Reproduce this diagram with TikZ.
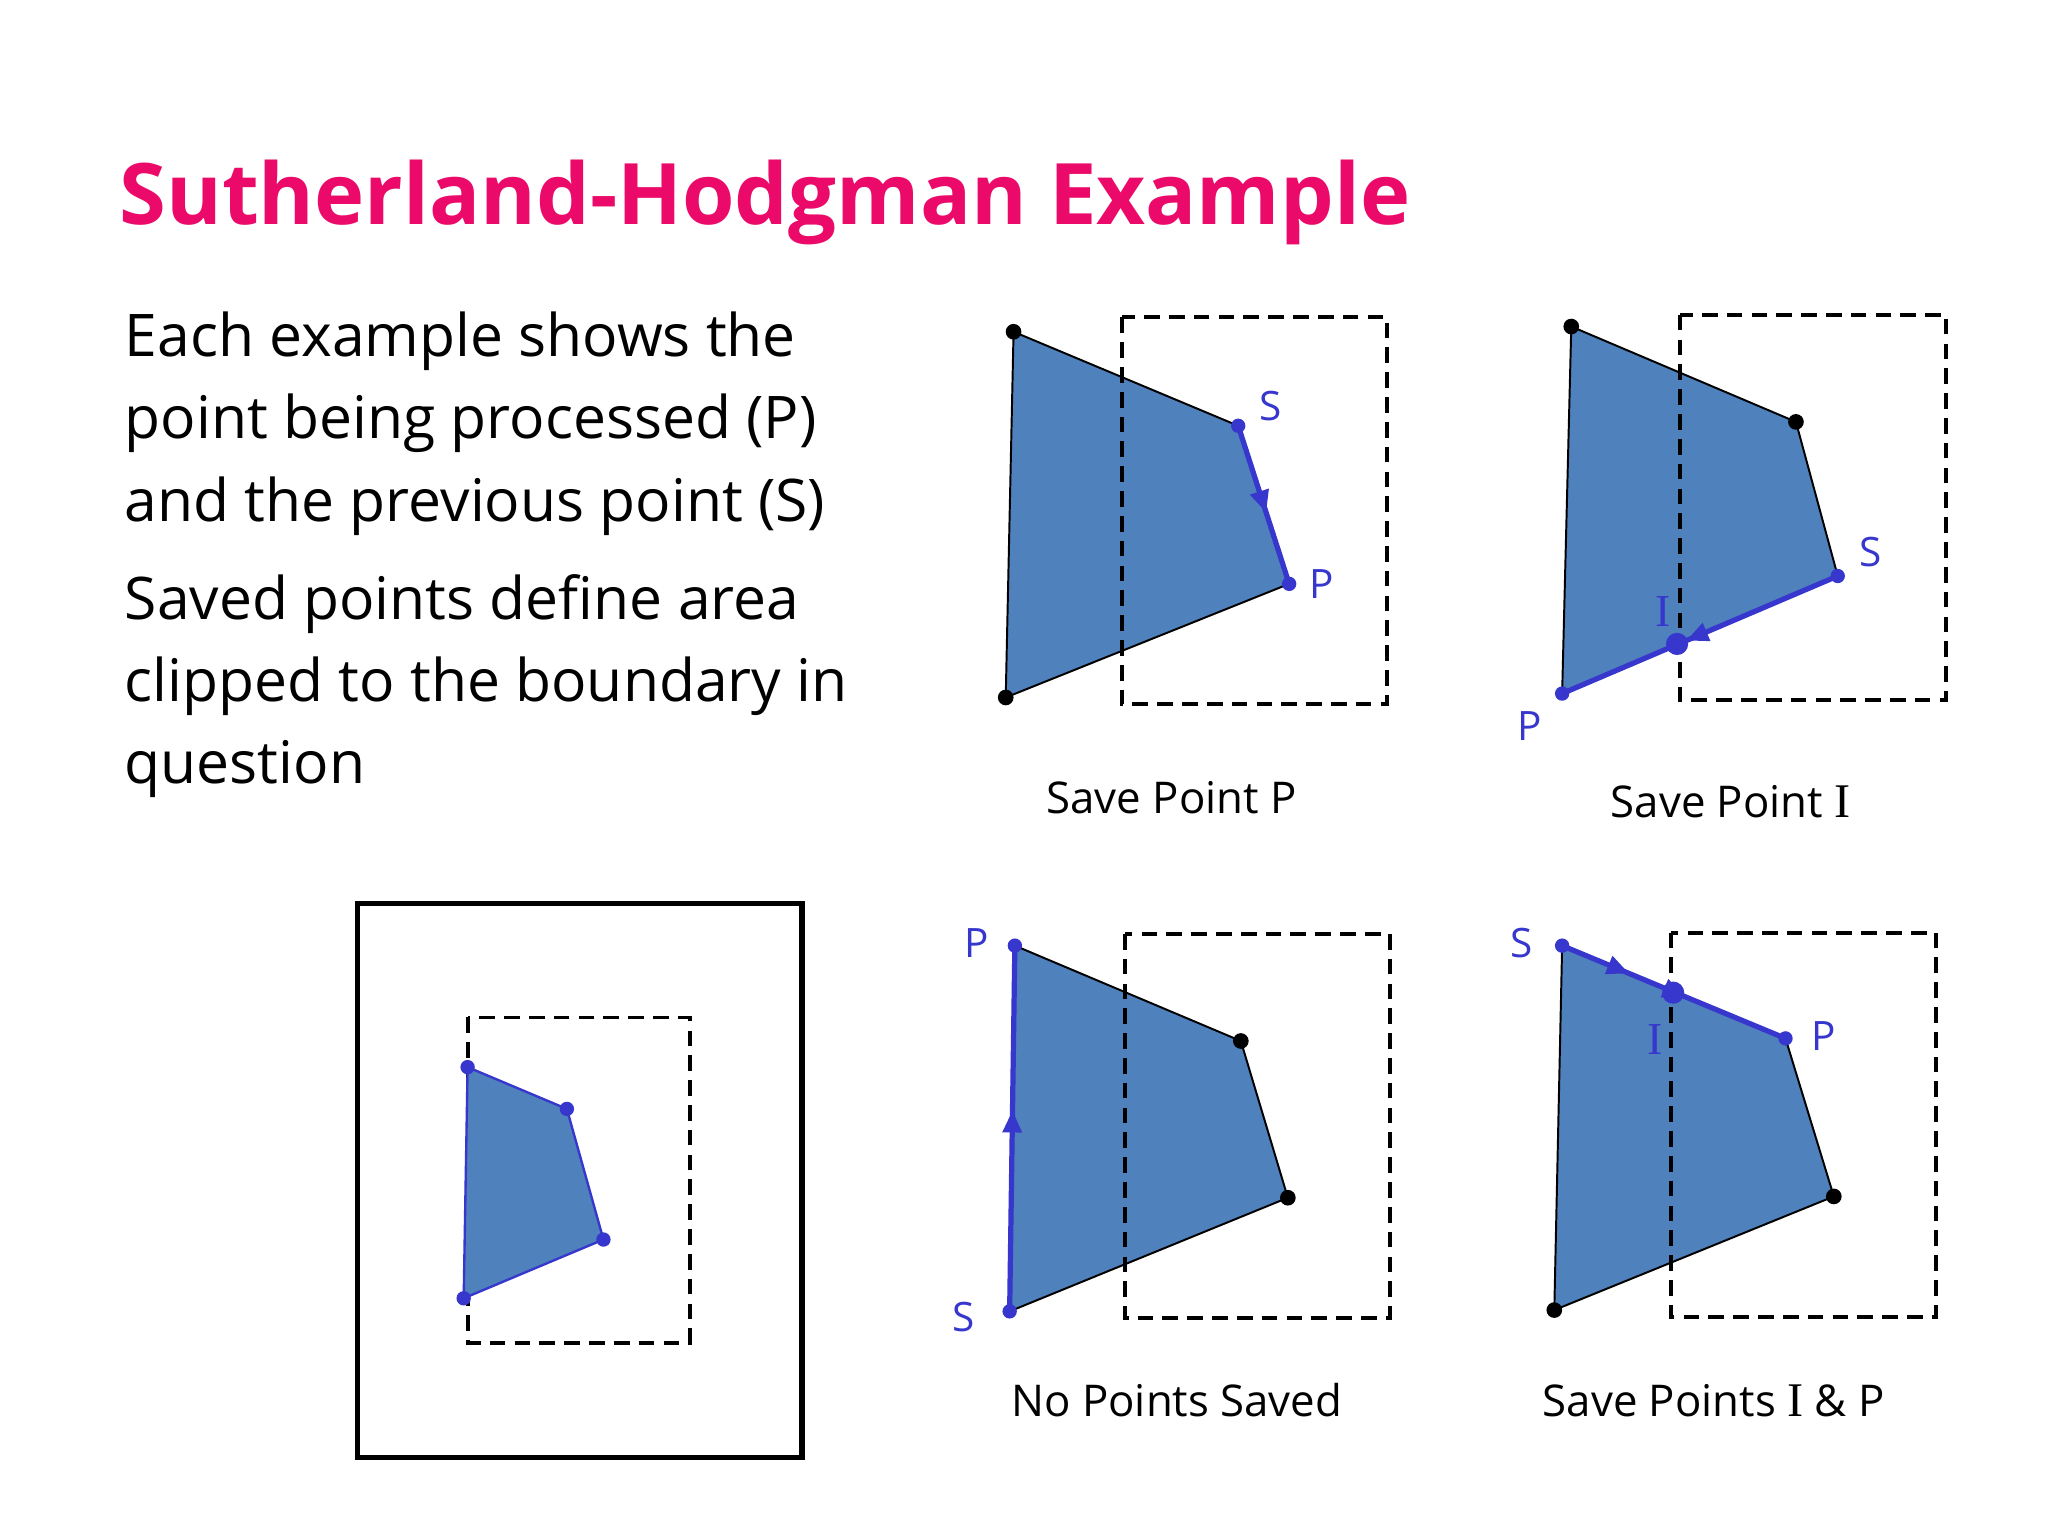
\documentclass[tikz,border=0pt]{standalone}
\usepackage{fontspec}
\setmainfont{Open Sans}
\newfontfamily\serifI{Liberation Serif}
\usetikzlibrary{decorations.markings,arrows.meta}
\definecolor{ttl}{RGB}{235,10,105}
\definecolor{pfill}{RGB}{79,129,189}
\definecolor{acc}{RGB}{55,55,205}
\tikzset{
 poly/.style={fill=pfill,draw=black,line width=1.5pt,line join=round},
 clipbox/.style={draw=black,dashed,dash pattern=on 12pt off 7pt,line width=3pt},
 bdot/.style={circle,fill=black,inner sep=0pt,minimum size=12pt},
 adot/.style={circle,fill=acc,inner sep=0pt,minimum size=11pt},
 idot/.style={circle,fill=acc,inner sep=0pt,minimum size=17pt},
 lbl/.style={text=acc,font=\fontsize{31}{36}\selectfont},
 ilbl/.style={text=acc,font=\serifI\fontsize{35}{36}\selectfont},
 captxt/.style={font=\fontsize{33.5}{38}\selectfont},
 body/.style={anchor=base west,font=\fontsize{45}{63}\selectfont},
 edge/.style={draw=acc,line width=4pt,postaction={decorate},decoration={markings,mark=at position 0.55 with {\arrow{Triangle[length=17pt,width=14pt]}}}}
}
\begin{document}
\begin{tikzpicture}[x=1pt,y=-1pt]
\path[use as bounding box,fill=white] (0,0) rectangle (1568,1176);
\node[anchor=base west,text=ttl,font=\bfseries\fontsize{65}{70}\selectfont] (title) at (88,172) {Sutherland-Hodgman Example};
\node[body] (t1) at (92,273) {Each example shows the};
\node[body] (t2) at (92,336) {point being processed (P)};
\node[body] (t3) at (92,399) {and the previous point (S)};
\node[body] (t4) at (92,474) {Saved points define area};
\node[body] (t5) at (92,537) {clipped to the boundary in};
\node[body] (t6) at (92,600) {question};

% panel 1
\draw[poly] (776,254) -- (948,326) -- (987,447) -- (770,534) -- cycle;
\draw[clipbox] (859,243) rectangle (1062,539);
\node[bdot] (a1) at (776,254) {};
\node[bdot] (d1) at (770,534) {};
\node[adot] (s1) at (948,326) {};
\node[adot] (p1) at (987,447) {};
\draw[edge] (s1.center) -- (p1.center);
\node[lbl] (ls1) at (973,311) {S};
\node[lbl] (lp1) at (1012,447) {P};
\node[captxt] (c1) at (897,611) {Save Point P};

% panel 2
\draw[poly] (1203,250) -- (1375,323) -- (1407,441) -- (1196,531) -- cycle;
\draw[clipbox] (1286,241) rectangle (1490,536);
\node[bdot] (a2) at (1203,250) {};
\node[bdot] (b2) at (1375,323) {};
\node[adot] (s2) at (1407,441) {};
\node[adot] (p2) at (1196,531) {};
\draw[edge] (s2.center) -- (p2.center);
\node[idot] (i2) at (1284,493) {};
\node[lbl] (ls2) at (1432,423) {S};
\node[lbl] (lp2) at (1171,556) {P};
\node[ilbl] (li2) at (1273,468) {I};
\node[captxt] (c2) at (1325,614) {Save Point {\serifI\fontsize{37}{38}\selectfont I}};

% bottom left
\draw[line width=4pt] (274,692) rectangle (614,1116);
\draw[clipbox] (358,779) rectangle (528,1028);
\draw[fill=pfill,draw=acc,line width=1.8pt] (358,817) -- (434,849) -- (462,949) -- (355,994) -- cycle;
\node[adot] (q1) at (358,817) {};
\node[adot] (q2) at (434,849) {};
\node[adot] (q3) at (462,949) {};
\node[adot] (q4) at (355,994) {};

% panel 3
\draw[poly] (777,724) -- (950,797) -- (986,917) -- (773,1004) -- cycle;
\draw[clipbox] (861,715) rectangle (1064,1009);
\node[bdot] (b3) at (950,797) {};
\node[bdot] (c3) at (986,917) {};
\node[adot] (p3) at (777,724) {};
\node[adot] (s3) at (773,1004) {};
\draw[edge] (s3.center) -- (p3.center);
\node[lbl] (lp3) at (748,722) {P};
\node[lbl] (ls3) at (738,1008) {S};
\node[captxt] (c3t) at (901,1072) {No Points Saved};

% panel 4
\draw[poly] (1196,724) -- (1367,795) -- (1404,916) -- (1190,1003) -- cycle;
\draw[clipbox] (1279,714) rectangle (1482,1008);
\node[bdot] (c4) at (1404,916) {};
\node[bdot] (d4) at (1190,1003) {};
\node[adot] (s4) at (1196,724) {};
\node[adot] (p4) at (1367,795) {};
\draw[edge,decoration={markings,mark=at position 0.3 with {\arrow{Triangle[length=17pt,width=14pt]}}}] (s4.center) -- (p4.center);
\node[idot] (i4) at (1281,760) {};
\node[lbl] (ls4) at (1165,722) {S};
\node[lbl] (lp4) at (1396,793) {P};
\node[ilbl] (li4) at (1267,796) {I};
\node[captxt] (c4t) at (1312,1072) {Save Points {\serifI\fontsize{37}{38}\selectfont I} \& P};
\end{tikzpicture}
\end{document}
